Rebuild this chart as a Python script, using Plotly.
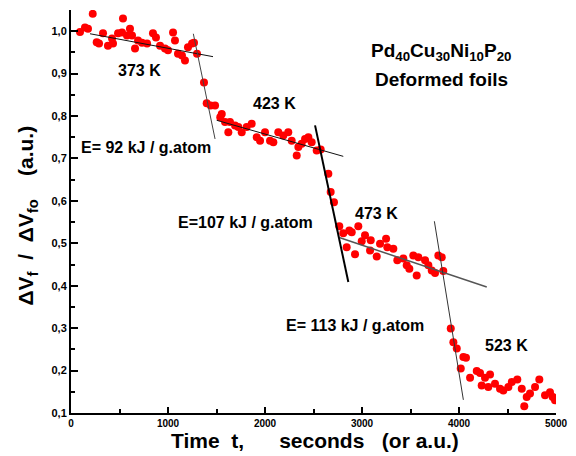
import plotly.graph_objects as go

# ---- data ----
time_373 = [93, 144, 175, 224, 265, 289, 330, 381, 423, 433, 485, 526, 536, 577, 608, 629, 660, 691,
            732, 784, 845, 876, 918, 969, 1000, 1052, 1072, 1103, 1144, 1175, 1206, 1248, 1268, 1299]
dv_373 = [0.998, 1.009, 1.006, 1.041, 0.974, 0.971, 0.995, 0.966, 0.983, 0.971, 0.995, 0.997, 1.030,
          0.990, 1.006, 0.990, 0.959, 0.978, 0.973, 0.971, 0.995, 0.985, 0.966, 0.959, 0.955, 0.997,
          0.978, 0.947, 0.943, 0.931, 0.962, 0.971, 0.973, 0.947]

time_423 = [1371, 1399, 1440, 1485, 1539, 1554, 1588, 1639, 1622, 1691, 1725, 1760, 1811, 1863, 1915,
            1949, 2000, 2052, 2086, 2137, 2189, 2240, 2275, 2327, 2344, 2378, 2413, 2447, 2481, 2533, 2574]
dv_423 = [0.879, 0.830, 0.825, 0.825, 0.797, 0.805, 0.786, 0.786, 0.762, 0.778, 0.774, 0.762, 0.774,
          0.782, 0.750, 0.742, 0.762, 0.742, 0.738, 0.762, 0.754, 0.762, 0.742, 0.707, 0.727, 0.735,
          0.746, 0.750, 0.738, 0.719, 0.721]

time_473 = [2653, 2677, 2711, 2766, 2807, 2869, 2894, 2962, 2842, 2928, 2997, 3031, 3083, 3090, 3152,
            3186, 3248, 3261, 3323, 3364, 3426, 3461, 3488, 3529, 3581, 3564, 3650, 3684, 3719, 3753,
            3787, 3822, 3838]
dv_473 = [0.664, 0.621, 0.597, 0.540, 0.524, 0.530, 0.526, 0.540, 0.491, 0.474, 0.505, 0.519, 0.483,
          0.507, 0.469, 0.499, 0.511, 0.491, 0.487, 0.460, 0.464, 0.448, 0.440, 0.471, 0.467, 0.424,
          0.460, 0.448, 0.436, 0.430, 0.471, 0.467, 0.435]

time_523 = [3915, 3942, 3977, 4018, 4045, 4072, 4114, 4183, 4217, 4268, 4320, 4234, 4302, 4371, 4423,
            4457, 4509, 4544, 4601, 4647, 4698, 4732, 4784, 4828, 4673, 4887, 4938, 4966, 4990]
dv_523 = [0.299, 0.267, 0.252, 0.205, 0.232, 0.230, 0.183, 0.199, 0.194, 0.183, 0.191, 0.165, 0.161,
          0.169, 0.157, 0.153, 0.161, 0.173, 0.179, 0.157, 0.138, 0.146, 0.161, 0.179, 0.116, 0.142,
          0.149, 0.138, 0.130]

# fitted straight lines (end points)
fit_373_t, fit_373_v = [196, 1464], [0.994, 0.940]
fit_e92_t, fit_e92_v = [1261, 1485], [0.994, 0.746]
fit_423_t, fit_423_v = [1502, 2807], [0.790, 0.705]
fit_e107_t, fit_e107_v = [2516, 2859], [0.778, 0.409]
fit_473_t, fit_473_v = [2773, 4286], [0.513, 0.397]
fit_e113_t, fit_e113_v = [3746, 4045], [0.552, 0.131]

y_ticks = [0.1, 0.2, 0.3, 0.4, 0.5, 0.6, 0.7, 0.8, 0.9, 1.0]
y_labels = ["0,1", "0,2", "0,3", "0,4", "0,5", "0,6", "0,7", "0,8", "0,9", "1,0"]
x_ticks = [0, 1000, 2000, 3000, 4000, 5000]
x_labels = ["0", "1000", "2000", "3000", "4000", "5000"]

FONT = "Liberation Sans, Arial, sans-serif"

fig = go.Figure()

for t, v in [(time_373, dv_373), (time_423, dv_423), (time_473, dv_473), (time_523, dv_523)]:
    fig.add_trace(go.Scatter(x=t, y=v, mode="markers",
                             marker=dict(color="#ff0000", size=8, line=dict(width=0)),
                             showlegend=False, hoverinfo="skip"))

line_styles = [
    (fit_373_t, fit_373_v, "#111111", 1),
    (fit_e92_t, fit_e92_v, "#444444", 1),
    (fit_423_t, fit_423_v, "#111111", 1),
    (fit_e107_t, fit_e107_v, "#000000", 2),
    (fit_473_t, fit_473_v, "#555555", 1.5),
    (fit_e113_t, fit_e113_v, "#333333", 1),
]
for t, v, c, w in line_styles:
    fig.add_trace(go.Scatter(x=t, y=v, mode="lines", line=dict(color=c, width=w),
                             showlegend=False, hoverinfo="skip"))

def label(x, y, text, size=16, xanchor="center"):
    fig.add_annotation(x=x, y=y, xref="x", yref="y", text="<b>" + text + "</b>",
                       showarrow=False, xanchor=xanchor, yanchor="middle",
                       font=dict(family=FONT, size=size, color="black"))

label(711, 0.907, "373 K")
label(2103, 0.829, "423 K")
label(3152, 0.570, "473 K")
label(4492, 0.259, "523 K")
label(82, 0.727, "E= 92 kJ / g.atom", xanchor="left")
label(1082, 0.550, "E=107 kJ / g.atom", xanchor="left")
label(2196, 0.306, "E= 113 kJ / g.atom", xanchor="left")

# title block
fig.add_annotation(x=0.763, y=(412.7 - 52) / 403.2, xref="paper", yref="paper", showarrow=False,
                   text="<b>Pd<sub>40</sub>Cu<sub>30</sub>Ni<sub>10</sub>P<sub>20</sub></b>",
                   xanchor="center", yanchor="middle", font=dict(family=FONT, size=19, color="black"))
fig.add_annotation(x=0.763, y=(412.7 - 79) / 403.2, xref="paper", yref="paper", showarrow=False,
                   text="<b>Deformed foils</b>",
                   xanchor="center", yanchor="middle", font=dict(family=FONT, size=19, color="black"))

nb = "\u00a0"
# axis titles
fig.add_annotation(x=0.503, y=-0.0687, xref="paper", yref="paper", showarrow=False,
                   text="<b>Time" + nb * 2 + "t," + nb * 6 + "seconds" + nb * 3 + "(or a.u.)</b>",
                   xanchor="center", yanchor="middle", font=dict(family=FONT, size=21, color="black"))
fig.add_annotation(x=-0.0907, y=0.49, xref="paper", yref="paper", showarrow=False, textangle=-90,
                   text="<b>\u0394V<sub>f</sub>" + nb * 2 + "/" + nb * 2 + "\u0394V<sub>fo</sub>" + nb * 4 + "(a.u.)</b>",
                   xanchor="center", yanchor="middle", font=dict(family=FONT, size=21, color="black"))

fig.update_xaxes(range=[0, 5000], showgrid=False, zeroline=False, showline=True,
                 linecolor="black", linewidth=2, mirror=False,
                 tickvals=x_ticks, ticktext=x_labels, ticks="inside", ticklen=6, tickwidth=1.5,
                 tickcolor="black",
                 tickfont=dict(family=FONT, size=10, color="black", weight="bold"),
                 minor=dict(dtick=500, tick0=0, ticks="inside", ticklen=4, tickwidth=1.5, tickcolor="black"))
fig.update_yaxes(range=[0.1, 1.05], showgrid=False, zeroline=False, showline=True,
                 linecolor="black", linewidth=2, mirror=False,
                 tickvals=y_ticks, ticktext=y_labels, ticks="inside", ticklen=7, tickwidth=1.5,
                 tickcolor="black",
                 tickfont=dict(family=FONT, size=11, color="black", weight="bold"),
                 minor=dict(dtick=0.05, tick0=0.1, ticks="inside", ticklen=4, tickwidth=1.5, tickcolor="black"))

# the page adds an 8 px body margin, so the figure is sized to the visible area
fig.update_layout(width=568, height=448, margin=dict(l=63, r=20, t=1.5, b=43.3),
                  paper_bgcolor="white", plot_bgcolor="white", showlegend=False,
                  font=dict(family=FONT, color="black"))

fig.write_html("out.html")
